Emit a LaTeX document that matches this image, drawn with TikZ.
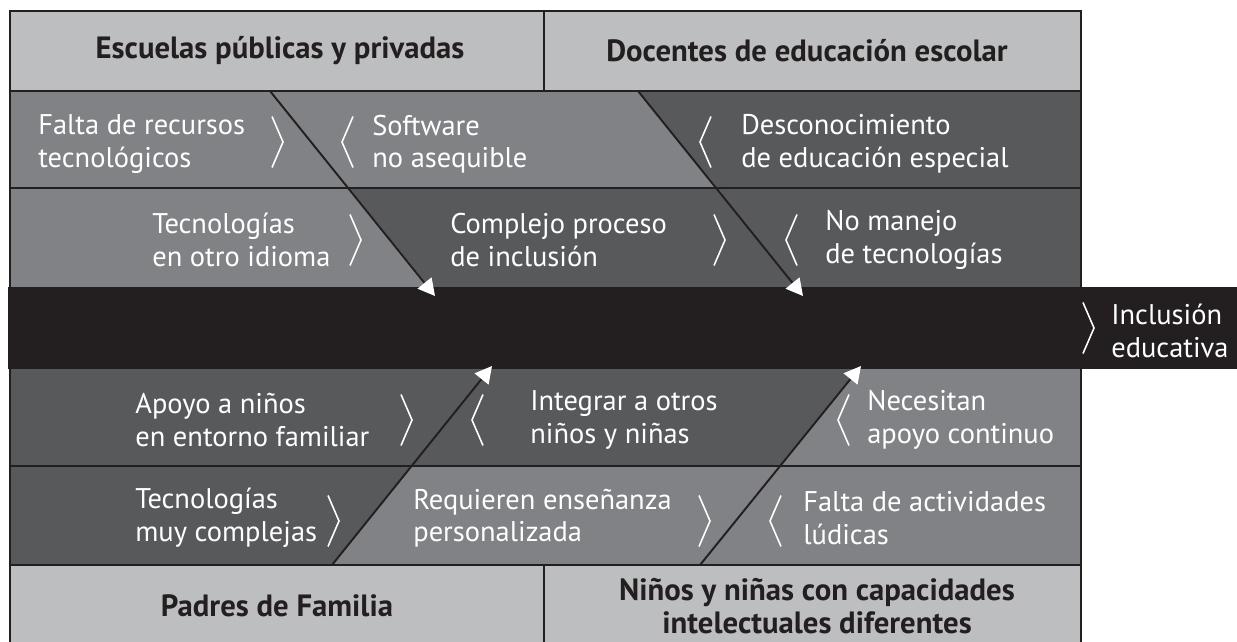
\documentclass[tikz,border=0pt]{standalone}
\usepackage{fontspec}
\setsansfont{PT Sans}
\usetikzlibrary{arrows.meta}
\definecolor{boxlight}{RGB}{188,190,192}
\definecolor{boxmid}{RGB}{128,130,133}
\definecolor{boxdark}{RGB}{88,89,91}
\definecolor{spine}{RGB}{35,31,32}
\tikzset{every picture/.style={/utils/exec={\sffamily}}}
\tikzset{
  cause/.style={text=white, align=left, anchor=west, inner sep=0pt, font=\fontsize{16.2}{18.5}\selectfont},
  head/.style={text=spine, align=center, inner sep=0pt, font=\bfseries\fontsize{17.5}{18.5}\selectfont},
  brk/.style={white, line width=0.9pt},
  bone/.style={spine, line width=1.1pt, -{Triangle[length=9.5pt,width=10pt,color=white]}},
  gridline/.style={spine, line width=1.4pt}
}

\begin{document}
\begin{tikzpicture}[x=0.02cm, y=-0.02cm]
  \useasboundingbox (0,0) rectangle (1237,642);

  % header and footer
  \fill [boxlight] (10,11) rectangle (1081,91);
  \fill [boxlight] (10,565) rectangle (1081,642);

  % rows above the spine
  \fill [boxmid] (10,91) -- (638,91) -- (717,188) -- (10,188) -- cycle;
  \fill [boxdark] (638,91) -- (1081,91) -- (1081,188) -- (717,188) -- cycle;
  \fill [boxmid] (10,188) -- (349,188) -- (429,287) -- (10,287) -- cycle;
  \fill [boxdark] (349,188) -- (1081,188) -- (1081,287) -- (429,287) -- cycle;

  % rows below the spine
  \fill [boxdark] (10,369) -- (858,369) -- (780,466) -- (10,466) -- cycle;
  \fill [boxmid] (858,369) -- (1081,369) -- (1081,466) -- (780,466) -- cycle;
  \fill [boxdark] (10,466) -- (412,466) -- (332,565) -- (10,565) -- cycle;
  \fill [boxmid] (412,466) -- (1081,466) -- (1081,565) -- (332,565) -- cycle;

  % spine
  \fill [spine] (8,287) rectangle (1237,369);

  % frame
  \foreach \y in {11,91,188,466,565} \draw [gridline] (10,\y) -- (1081,\y);
  \draw [gridline] (10,10) -- (10,287) (1081,10) -- (1081,287);
  \draw [gridline] (10,369) -- (10,642) (1081,369) -- (1081,642);
  \draw [gridline] (544,11) -- (544,91) (544,565) -- (544,642);

  % bones
  \coordinate (b1) at (270,91);  \coordinate (t1) at (435,296);
  \coordinate (b2) at (638,91);  \coordinate (t2) at (803,296);
  \coordinate (b3) at (332,565); \coordinate (t3) at (492,366);
  \coordinate (b4) at (700,565); \coordinate (t4) at (861,366);
  \foreach \n in {1,2,3,4} \draw [bone] (b\n) -- (t\n);

  % brackets
  \foreach \x/\y in {272/142, 350/240, 714/240, 1083/328, 401/420, 328/521, 699/521}
    \draw [brk] (\x,\y) ++(0,-25.5) -- ++(11,25.5) -- ++(-11,25.5);
  \foreach \x/\y in {353/142, 711/142, 797/240, 483/420, 849/420, 781/521}
    \draw [brk] (\x,\y) ++(0,-25.5) -- ++(-11,25.5) -- ++(11,25.5);

  % groups
  \node [head] (esc) at (280,51) {Escuelas públicas y privadas};
  \node [head] (doc) at (807,51) {Docentes de educación escolar};
  \node [head] (pad) at (277,606) {Padres de Familia};
  \node [head] (nin) at (817,606) {Niños y niñas con capacidades\\intelectuales diferentes};

  % causes
  \node [cause] (falta) at (38,144) {Falta de recursos\\tecnológicos};
  \node [cause] (soft) at (372,144) {Software\\no asequible};
  \node [cause] (desc) at (741,144) {Desconocimiento\\de educación especial};
  \node [cause] (tecidi) at (152,240) {Tecnologías\\en otro idioma};
  \node [cause] (compl) at (450,240) {Complejo proceso\\de inclusión};
  \node [cause] (noman) at (825,240) {No manejo\\de tecnologías};
  \node [cause] (incl) at (1111,331) {Inclusión\\educativa};
  \node [cause] (apoyo) at (135,420) {Apoyo a niños\\en entorno familiar};
  \node [cause] (integ) at (530,420) {Integrar a otros\\niños y niñas};
  \node [cause] (neces) at (867,420) {Necesitan\\apoyo continuo};
  \node [cause] (teccom) at (135,518) {Tecnologías\\muy complejas};
  \node [cause] (requ) at (413,518) {Requieren enseñanza\\personalizada};
  \node [cause] (faltact) at (803,518) {Falta de actividades\\lúdicas};

\end{tikzpicture}
\end{document}
